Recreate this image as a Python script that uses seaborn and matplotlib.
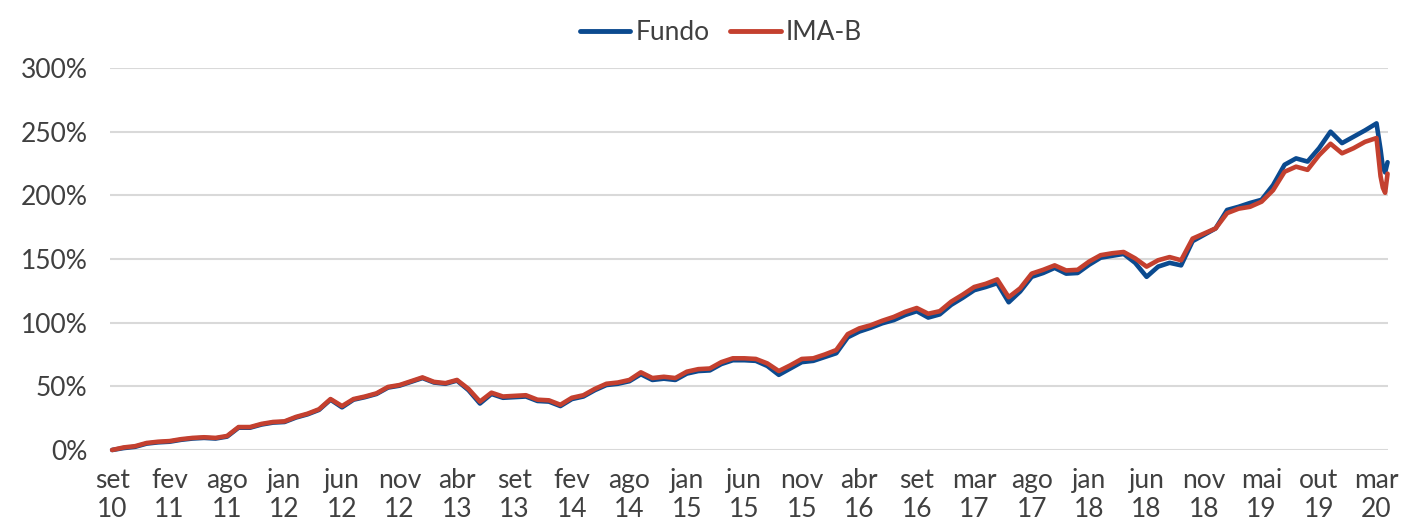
import numpy as np
import pandas as pd
import matplotlib
matplotlib.use("Agg")
import matplotlib.pyplot as plt
from matplotlib.lines import Line2D
import seaborn as sns

# dados (retorno acumulado em %)
ima_b = [0, 2, 3, 5.5, 6.5, 7, 8.5, 9.5, 10, 9.5,
         11, 18, 18, 20.5, 22, 22.5, 26, 28.5, 32, 40,
         34.5, 40, 42, 44.5, 49.5, 51, 54, 57, 53.5, 52.5,
         55, 48, 38, 45, 42, 42.5, 43, 39.5, 39, 35.5,
         41, 43, 48, 52, 53, 55, 61, 56.5, 57.5, 56.5,
         61.5, 63.5, 64, 69, 72, 72, 71.5, 68, 62, 66.5,
         71.5, 72, 75, 78.5, 91, 95.5, 98, 101.5, 104.5, 108.5,
         111.5, 107, 109, 116.5, 122, 128, 130.5, 134, 120, 127,
         138.5, 141.5, 145, 141, 141.5, 148, 153, 154.5, 155.5, 150.5,
         144, 149, 151.5, 149, 166, 170, 174, 186, 189.5, 191,
         195, 204, 218.5, 222.5, 220, 231.5, 240.5, 233, 237, 242,
         245, 215, 206, 202, 217]

fundo = [0, 1.5, 2.5, 5, 6, 6.5, 8, 9, 9.5, 9,
         10.5, 17.5, 17.5, 20, 21.5, 22, 25.5, 28, 31.5, 39.5,
         33.5, 39.5, 41.5, 44, 49, 50.5, 53.5, 56.5, 53, 52,
         54.5, 47, 36.5, 44, 41, 41.5, 42, 38.5, 38, 34.5,
         40, 42, 47, 51, 52, 54, 59.5, 55, 56, 55,
         60, 62, 62.5, 67.5, 70.5, 70.5, 70, 66, 59, 64,
         69, 70, 73, 76, 88.5, 93, 96, 99.5, 102, 106,
         109, 104, 106.5, 114, 119.5, 125.5, 128, 131, 116, 124.5,
         136, 139, 143, 138.5, 139, 145.5, 151, 152.5, 154, 147,
         136, 144, 147, 145, 164, 169, 174, 188.5, 191, 194,
         196.5, 208, 224, 229, 226.5, 237, 250, 241, 246, 251,
         256.5, 236, 222, 218, 226]

# posicao de cada observacao no eixo (passo regular + queda final de mar/20)
passo = list(range(111)) + [110.35, 110.55, 110.75, 110.96]

rotulos = ["set\n10", "fev\n11", "ago\n11", "jan\n12", "jun\n12", "nov\n12",
           "abr\n13", "set\n13", "fev\n14", "ago\n14", "jan\n15", "jun\n15",
           "nov\n15", "abr\n16", "set\n16", "mar\n17", "ago\n17", "jan\n18",
           "jun\n18", "nov\n18", "mai\n19", "out\n19", "mar\n20"]
pos_rotulos = list(range(0, 111, 5))

df = pd.DataFrame({
    "t": passo * 2,
    "ret": fundo + ima_b,
    "serie": ["Fundo"] * len(fundo) + ["IMA-B"] * len(ima_b),
})

sns.set_theme(style="white")
plt.rcParams["font.family"] = ["Lato", "DejaVu Sans"]

cor_texto = "#404040"
azul = "#0B4A8F"
vermelho = "#C4402F"

fig = plt.figure(figsize=(14.08, 5.23), dpi=100)
ax = fig.add_axes([0.078, 0.1396, 0.9078, 0.7304])

sns.lineplot(data=df, x="t", y="ret", hue="serie",
             palette={"Fundo": azul, "IMA-B": vermelho},
             linewidth=3.3, ax=ax, legend=False, clip_on=False)

ax.set_xlim(-0.2, 111)
ax.set_ylim(0, 300)
ax.set_yticks(range(0, 301, 50))
ax.set_yticklabels([f"{v}%" for v in range(0, 301, 50)])
ax.set_xticks(pos_rotulos)
ax.set_xticklabels(rotulos, linespacing=1.2)
ax.tick_params(axis="y", length=0, pad=16, labelsize=19, labelcolor=cor_texto)
ax.tick_params(axis="x", length=0, pad=13, labelsize=19, labelcolor=cor_texto)
ax.set_xlabel("")
ax.set_ylabel("")

ax.yaxis.grid(True, color="#D9D9D9", linewidth=1.5)
ax.xaxis.grid(False)
ax.set_axisbelow(True)
for s in ax.spines.values():
    s.set_visible(False)

handles = [Line2D([], [], color=azul, linewidth=3.5),
           Line2D([], [], color=vermelho, linewidth=3.5)]
fig.legend(handles, ["Fundo", "IMA-B"], loc="center", bbox_to_anchor=(0.512, 0.938),
           ncol=2, frameon=False, fontsize=19, handlelength=1.9,
           handletextpad=0.2, columnspacing=0.8, labelcolor=cor_texto)

fig.savefig("out.png", dpi=100)
